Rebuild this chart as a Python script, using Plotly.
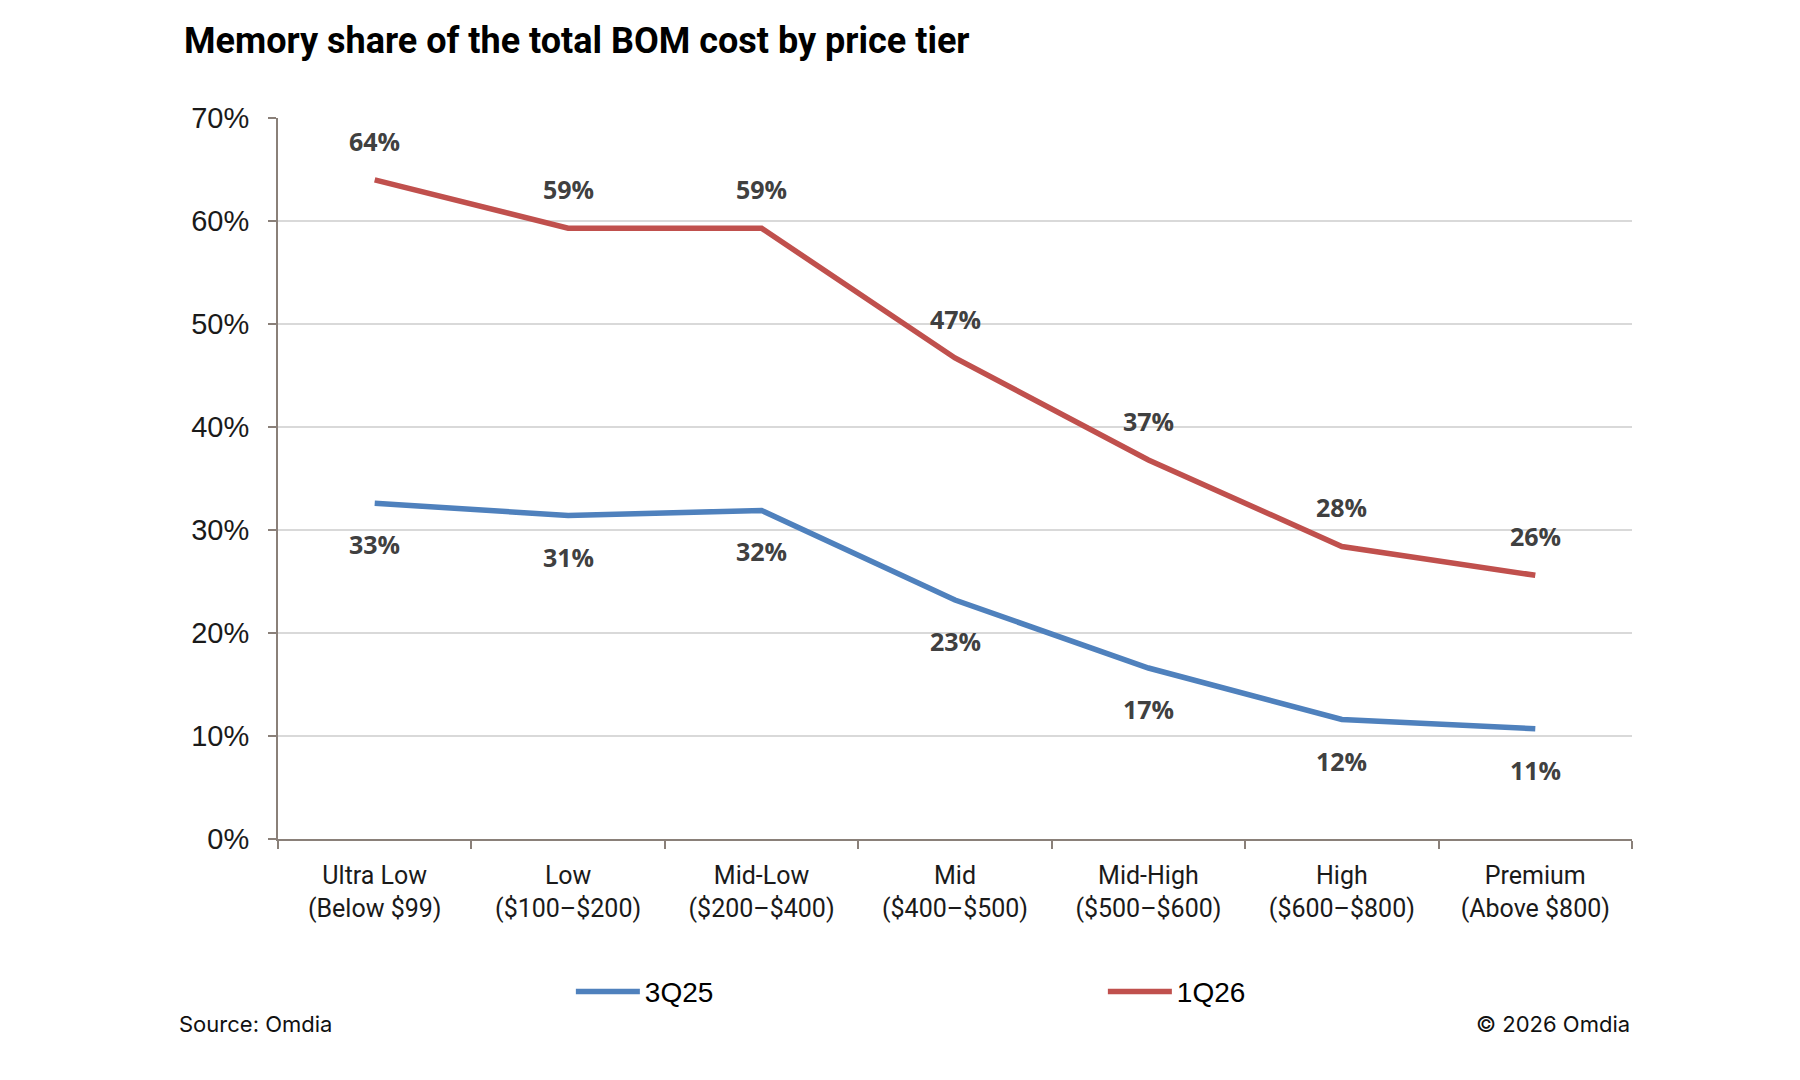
import plotly.graph_objects as go

categories = [
    "Ultra Low<br>(Below $99)",
    "Low<br>($100–$200)",
    "Mid-Low<br>($200–$400)",
    "Mid<br>($400–$500)",
    "Mid-High<br>($500–$600)",
    "High<br>($600–$800)",
    "Premium<br>(Above $800)",
]
series_3q25 = [0.326, 0.314, 0.319, 0.232, 0.166, 0.116, 0.107]
series_1q26 = [0.640, 0.593, 0.593, 0.467, 0.368, 0.284, 0.256]
y_ticks = [0, 0.1, 0.2, 0.3, 0.4, 0.5, 0.6, 0.7]

BLUE = "#4F81BD"
RED = "#C0504D"
AXIS = "#8A8079"
LABEL = "#404040"

fig = go.Figure()
fig.add_trace(go.Scatter(x=categories, y=series_3q25, name="3Q25", mode="lines",
                         line=dict(color=BLUE, width=5.5)))
fig.add_trace(go.Scatter(x=categories, y=series_1q26, name="1Q26", mode="lines",
                         line=dict(color=RED, width=5.5)))

annotations = []
for c, v in zip(categories, series_1q26):
    annotations.append(dict(x=c, y=v, xref="x", yref="y", text=f"{round(v*100)}%",
                            showarrow=False, yshift=39,
                            font=dict(family="Open Sans", size=25, color=LABEL, weight="bold")))
for c, v in zip(categories, series_3q25):
    annotations.append(dict(x=c, y=v, xref="x", yref="y", text=f"{round(v*100)}%",
                            showarrow=False, yshift=-41,
                            font=dict(family="Open Sans", size=25, color=LABEL, weight="bold")))

annotations.append(dict(x=-0.0748, y=-0.2566, xref="paper", yref="paper", text="Source: Omdia",
                        showarrow=False, xanchor="left", yanchor="middle",
                        font=dict(family="Inter", size=22, color="#111111")))
annotations.append(dict(x=1.0, y=-0.2566, xref="paper", yref="paper", text="© 2026 Omdia",
                        showarrow=False, xanchor="right", yanchor="middle",
                        font=dict(family="Inter", size=22, color="#111111")))

fig.update_layout(
    width=1800, height=1080,
    margin=dict(l=278, r=168, t=118, b=241, autoexpand=False),
    paper_bgcolor="white", plot_bgcolor="white",
    title=dict(text="<b>Memory share of the total BOM cost by price tier</b>",
               x=184/1800, xanchor="left", xref="container",
               y=1-40/1080, yanchor="middle", yref="container",
               font=dict(family="Roboto", size=36, color="#000000")),
    showlegend=True,
    legend=dict(orientation="h", x=0.2163, xanchor="left", y=-0.212, yanchor="middle",
                entrywidth=453, entrywidthmode="pixels", itemwidth=64,
                font=dict(family="Liberation Sans", size=28, color="#000000"),
                bgcolor="rgba(0,0,0,0)"),
    annotations=annotations,
)

fig.update_xaxes(
    type="category", range=[-0.5, 6.5], tickson="boundaries",
    ticks="outside", ticklen=8, tickwidth=1.5, tickcolor=AXIS,
    showline=True, linecolor=AXIS, linewidth=2, showgrid=False, zeroline=False,
    tickfont=dict(family="Roboto", size=25, color="#1a1a1a"),
    ticklabelstandoff=13,
)
fig.update_yaxes(
    range=[0, 0.7], tickvals=y_ticks, tickformat=".0%",
    ticks="outside", ticklen=8, tickwidth=1.5, tickcolor=AXIS,
    showline=True, linecolor=AXIS, linewidth=2,
    showgrid=True, gridcolor="#D9D9D9", gridwidth=2, zeroline=False,
    tickfont=dict(family="Liberation Sans", size=29, color="#1a1a1a"),
    ticklabelstandoff=13,
)

fig.write_html("out.html")
